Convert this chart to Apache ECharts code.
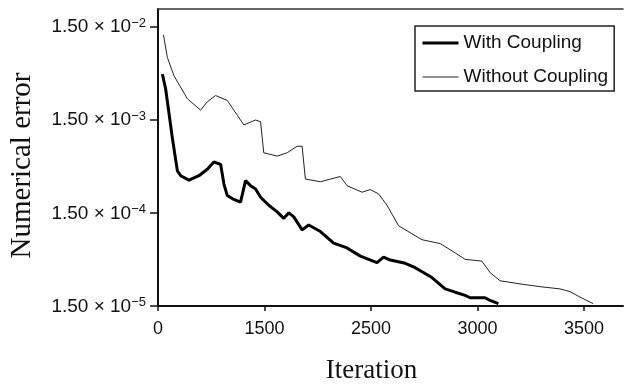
<!DOCTYPE html>
<html>
<head>
<meta charset="utf-8">
<script src="https://cdn.jsdelivr.net/npm/echarts@6/dist/echarts.min.js"></script>
<style>
html,body{margin:0;padding:0;background:#fff;}
#chart{width:625px;height:389px;}
</style>
</head>
<body>
<div id="chart"></div>
<script>
// ---- data (x in axis tick units; tick k is labelled xTickLabels[k]) ----
const xTickLabels = ['0', '1500', '2500', '3000', '3500'];
const yTickMantissa = '1.50';
const yTickExponents = [-5, -4, -3, -2];
const Y_BASE = 1.5e-5;      // bottom of the y axis (1.50 x 10^-5)
const Y_TOP = 2.32e-2;      // top of the plot frame
const X_MAX = 4.366;        // right end of the x axis, in tick units

const seriesNames = ['With Coupling', 'Without Coupling'];

const withX = [0.041,0.072,0.135,0.182,0.213,0.291,0.384,0.463,0.525,0.588,0.619,0.650,0.712,0.775,0.822,0.869,0.916,0.963,1.040,1.119,1.181,1.228,1.275,1.353,1.415,1.525,1.649,1.775,1.900,1.978,2.056,2.118,2.181,2.322,2.415,2.572,2.696,2.790,2.884,2.931,3.071,3.118,3.196];
const withY = [4.64e-3,3.21e-3,9.53e-4,4.24e-4,3.76e-4,3.37e-4,3.76e-4,4.41e-4,5.28e-4,4.98e-4,3.06e-4,2.31e-4,2.09e-4,1.96e-4,3.33e-4,2.94e-4,2.71e-4,2.21e-4,1.81e-4,1.54e-4,1.31e-4,1.50e-4,1.36e-4,9.86e-5,1.11e-4,9.46e-5,7.11e-5,6.30e-5,5.15e-5,4.75e-5,4.38e-5,5.02e-5,4.67e-5,4.31e-5,3.87e-5,3.03e-5,2.29e-5,2.11e-5,1.95e-5,1.84e-5,1.84e-5,1.72e-5,1.59e-5];

const withoutX = [0.051,0.088,0.150,0.276,0.400,0.463,0.541,0.650,0.744,0.806,0.916,0.963,0.993,1.119,1.213,1.306,1.353,1.384,1.525,1.712,1.775,1.916,1.993,2.071,2.150,2.259,2.384,2.478,2.650,2.790,2.884,3.040,3.118,3.212,3.399,3.587,3.774,3.868,3.962,4.086];
const withoutY = [1.225e-2,7.0e-3,4.45e-3,2.52e-3,1.90e-3,2.34e-3,2.73e-3,2.42e-3,1.68e-3,1.32e-3,1.49e-3,1.43e-3,6.63e-4,6.11e-4,6.63e-4,7.79e-4,7.79e-4,3.46e-4,3.24e-4,3.69e-4,2.94e-4,2.50e-4,2.67e-4,2.40e-4,1.81e-4,1.09e-4,8.95e-5,7.73e-5,7.02e-5,5.58e-5,4.75e-5,4.56e-5,3.43e-5,2.80e-5,2.59e-5,2.42e-5,2.29e-5,2.14e-5,1.87e-5,1.59e-5];

// decades above the axis base (the axis is logarithmic, ticks every decade from 1.50e-5)
const dec = v => Math.log10(v / Y_BASE);
const toPairs = (xs, ys) => xs.map((x, i) => [x, dec(ys[i])]);

const yTickPos = yTickExponents.map((e, i) => i);
const xTickPos = xTickLabels.map((l, i) => i);

const chart = echarts.init(document.getElementById('chart'), null, {renderer: 'canvas'});
chart.setOption({
  animation: false,
  backgroundColor: '#fff',
  grid: {left: 158, right: 2, top: 9, bottom: 79, containLabel: false},
  legend: {
    orient: 'vertical',
    left: 415, top: 26,
    padding: [6, 6, 3, 6],
    itemWidth: 36, itemHeight: 14, itemGap: 12,
    borderColor: '#222', borderWidth: 1.5,
    backgroundColor: '#fff',
    itemStyle: {opacity: 0},
    textStyle: {fontFamily: '"Liberation Sans", Arial, sans-serif', fontSize: 19, color: '#111', lineHeight: 22},
    data: [
      {name: seriesNames[0], lineStyle: {width: 3, color: '#000', opacity: 1}},
      {name: seriesNames[1], lineStyle: {width: 1, color: '#222', opacity: 1}}
    ]
  },
  xAxis: [{
    type: 'value', min: 0, max: X_MAX, interval: 1,
    name: 'Iteration', nameLocation: 'middle', nameGap: 51,
    nameTextStyle: {fontFamily: '"Liberation Serif", "Times New Roman", serif', fontSize: 27, color: '#111', padding: [0, 38, 0, 0]},
    axisLine: {show: true, lineStyle: {color: '#111', width: 2}},
    axisTick: {show: true, length: 5, lineStyle: {color: '#111', width: 1.5}, customValues: xTickPos},
    axisLabel: {
      customValues: xTickPos, margin: 14,
      fontFamily: '"Liberation Sans", Arial, sans-serif', fontSize: 18, color: '#111',
      formatter: v => { const i = Math.round(v); return Math.abs(v - i) < 1e-6 && xTickLabels[i] !== undefined ? xTickLabels[i] : ''; }
    },
    splitLine: {show: false}
  }, {
    type: 'value', position: 'top', min: 0, max: X_MAX,
    axisLine: {show: true, onZero: false, lineStyle: {color: '#333', width: 1.5}},
    axisTick: {show: false}, axisLabel: {show: false}, splitLine: {show: false}
  }],
  yAxis: {
    type: 'value', min: 0, max: dec(Y_TOP), interval: 1,
    name: 'Numerical error', nameLocation: 'middle', nameGap: 121,
    nameTextStyle: {fontFamily: '"Liberation Serif", "Times New Roman", serif', fontSize: 29, color: '#111', padding: [0, 16, 0, 0]},
    axisLine: {show: true, lineStyle: {color: '#111', width: 2}},
    axisTick: {show: true, length: 8, lineStyle: {color: '#111', width: 1.5}, customValues: yTickPos},
    axisLabel: {
      customValues: yTickPos, margin: 12,
      formatter: v => {
        const i = Math.round(v);
        if (Math.abs(v - i) > 1e-6 || yTickExponents[i] === undefined) return '';
        return '{b|' + yTickMantissa + ' \u00d7 10}{s|\u2212' + Math.abs(yTickExponents[i]) + '}';
      },
      rich: {
        b: {fontFamily: '"Liberation Sans", Arial, sans-serif', fontSize: 19, color: '#111', lineHeight: 20, verticalAlign: 'bottom'},
        s: {fontFamily: '"Liberation Sans", Arial, sans-serif', fontSize: 13, color: '#111', lineHeight: 13, verticalAlign: 'top'}
      }
    },
    splitLine: {show: false}
  },
  series: [{
    name: seriesNames[0], type: 'line', symbol: 'none', smooth: false,
    lineStyle: {color: '#000', width: 3},
    itemStyle: {color: '#000'},
    data: toPairs(withX, withY)
  }, {
    name: seriesNames[1], type: 'line', symbol: 'none', smooth: false,
    lineStyle: {color: '#222', width: 1},
    itemStyle: {color: '#222'},
    data: toPairs(withoutX, withoutY)
  }]
});
</script>
</body>
</html>
